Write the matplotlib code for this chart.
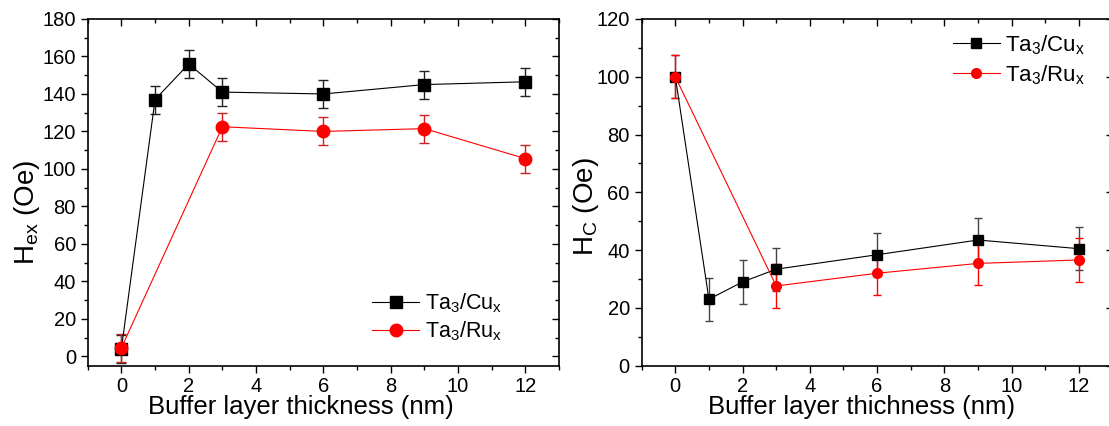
import numpy as np
import matplotlib
matplotlib.use("Agg")
import matplotlib.pyplot as plt
from matplotlib.ticker import MultipleLocator

plt.rcParams["font.family"] = ["Liberation Sans", "DejaVu Sans"]
plt.rcParams["mathtext.default"] = "regular"

thickness = [0, 1, 2, 3, 6, 9, 12]
thickness_ru = [0, 3, 6, 9, 12]

hex_cu = [4, 137, 156, 141, 140, 145, 146.5]
hex_cu_err = [7.5, 7.5, 7.5, 7.5, 7.5, 7.5, 7.5]
hex_ru = [4.5, 122.5, 120, 121.5, 105.5]
hex_ru_err = [7.5, 7.5, 7.5, 7.5, 7.5]

hc_cu = [100, 23, 29, 33.4, 38.4, 43.5, 40.5]
hc_cu_err = [7.5, 7.5, 7.5, 7.5, 7.5, 7.5, 7.5]
hc_ru = [100, 27.6, 32, 35.4, 36.6]
hc_ru_err = [7.5, 7.5, 7.5, 7.5, 7.5]

fig = plt.figure(figsize=(11.09, 4.26), dpi=100)
ax1 = fig.add_axes([0.0791, 0.1416, 0.425, 0.8138])
ax2 = fig.add_axes([0.5786, 0.1416, 0.4246, 0.8138])


def style_axis(ax, ymajor, yminor):
    ax.xaxis.set_major_locator(MultipleLocator(2))
    ax.xaxis.set_minor_locator(MultipleLocator(1))
    ax.yaxis.set_major_locator(MultipleLocator(ymajor))
    ax.yaxis.set_minor_locator(MultipleLocator(yminor))
    ax.tick_params(which="both", top=True, right=True, labelsize=14.5, width=1)
    ax.tick_params(which="major", length=5)
    ax.tick_params(which="minor", length=3)
    for spine in ax.spines.values():
        spine.set_linewidth(1.2)
    # top/right ticks point inward, bottom/left outward
    for tick in ax.xaxis.get_major_ticks() + ax.xaxis.get_minor_ticks():
        tick.tick2line.set_marker(3)
    for tick in ax.yaxis.get_major_ticks() + ax.yaxis.get_minor_ticks():
        tick.tick2line.set_marker(0)


# left panel: exchange bias
cu1 = ax1.errorbar(thickness, hex_cu, yerr=hex_cu_err, color="black", marker="s",
                   markersize=8, lw=0.8, elinewidth=1, capsize=3.5, ecolor="#222222")
ru1 = ax1.errorbar(thickness_ru, hex_ru, yerr=hex_ru_err, color="red", marker="o",
                   markersize=9, lw=0.8, elinewidth=1, capsize=3.5, ecolor="#cc2222")
ax1.set_xlim(-1, 13)
ax1.set_ylim(-5, 180)
style_axis(ax1, 20, 10)
ax1.set_xlabel("Buffer layer thickness (nm)", fontsize=18.5)
ax1.xaxis.set_label_coords(0.452, -0.085)
ax1.set_ylabel("H$_{ex}$ (Oe)", fontsize=20)
ax1.yaxis.set_label_coords(-0.097, 0.443)
ax1.legend([cu1[0], ru1[0]], ["Ta$_3$/Cu$_x$", "Ta$_3$/Ru$_x$"],
           loc="center left", bbox_to_anchor=(0.603, 0.14), frameon=False,
           fontsize=15.5, handlelength=2.2, handletextpad=0.25, labelspacing=0.2,
           borderpad=0, borderaxespad=0)

# right panel: coercivity
cu2 = ax2.errorbar(thickness, hc_cu, yerr=hc_cu_err, color="black", marker="s",
                   markersize=6.5, lw=0.8, elinewidth=1, capsize=3, ecolor="#444444")
ru2 = ax2.errorbar(thickness_ru, hc_ru, yerr=hc_ru_err, color="red", marker="o",
                   markersize=7, lw=0.8, elinewidth=1, capsize=3, ecolor="red")
ax2.set_xlim(-1, 13)
ax2.set_ylim(0, 120)
style_axis(ax2, 20, 10)
ax2.set_xlabel("Buffer layer thichness (nm)", fontsize=18.5)
ax2.xaxis.set_label_coords(0.467, -0.085)
ax2.set_ylabel("H$_C$ (Oe)", fontsize=20)
ax2.yaxis.set_label_coords(-0.087, 0.458)
ax2.legend([cu2[0], ru2[0]], ["Ta$_3$/Cu$_x$", "Ta$_3$/Ru$_x$"],
           loc="center left", bbox_to_anchor=(0.661, 0.882), frameon=False,
           fontsize=16, handlelength=2.1, handletextpad=0.25, labelspacing=0.3,
           borderpad=0, borderaxespad=0)

fig.savefig("out.png", dpi=100)
